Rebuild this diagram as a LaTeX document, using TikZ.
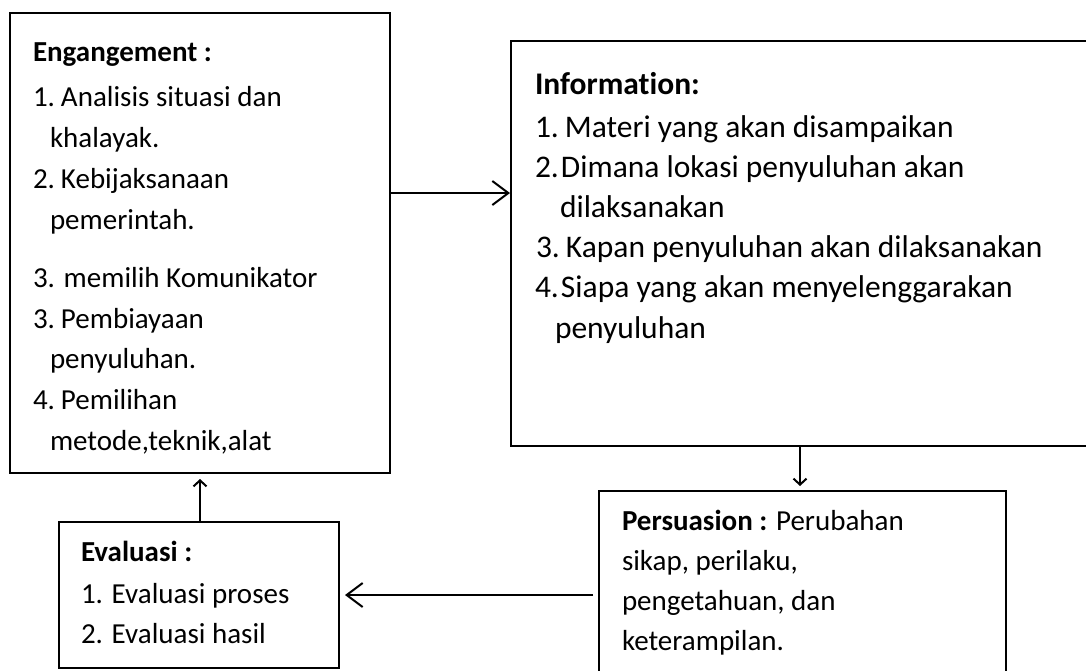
\documentclass[tikz,border=0pt]{standalone}
\usepackage{fontspec}
\setmainfont{Carlito}[Ligatures={NoCommon}]
\usetikzlibrary{arrows.meta}
\tikzset{
  box/.style={draw=black, line width=2pt, rectangle, inner sep=0pt, outer sep=0pt, anchor=north west},
  txt/.style={anchor=base west, inner sep=0pt, outer sep=0pt, font=\fontsize{29}{34}\selectfont},
  txtb/.style={txt, font=\fontsize{31.5}{36}\selectfont},
  txtc/.style={txt, font=\fontsize{29}{34}\selectfont},
  arr/.style={line width=2pt, -{Straight Barb[length=16pt,width=24pt,line width=2pt]}},
  sarr/.style={line width=2.2pt, -{Straight Barb[length=6pt,width=13pt,line width=2pt]}}
}
\newcommand{\numb}[1]{\makebox[28pt][l]{#1}}
\newcommand{\numw}[2]{\makebox[#1][l]{#2}}
\begin{document}
\begin{tikzpicture}[x=1pt,y=-1pt]
\path[use as bounding box, fill=white] (0,0) rectangle (1086,670);
\clip (0,0) rectangle (1086,670);
% boxes
\node[box, minimum width=380pt, minimum height=460pt] (A) at (10,13) {};
\node[box, minimum width=600pt, minimum height=405pt] (B) at (511,41) {};
\node[box, minimum width=407pt, minimum height=200pt] (C) at (599,491) {};
\node[box, minimum width=280pt, minimum height=146pt] (D) at (59,522) {};
% box A text
\node[txt] (a1) at (33,61) {\textbf{Engangement :}};
\node[txt] (a2) at (33,106) {\numb{1.}Analisis situasi dan};
\node[txt] (a3) at (50,147) {khalayak.};
\node[txt] (a4) at (33,188) {\numb{2.}Kebijaksanaan};
\node[txt] (a5) at (50,229) {pemerintah.};
\node[txt] (a6) at (33,287) {3. memilih Komunikator};
\node[txt] (a7) at (33,328) {\numb{3.}Pembiayaan};
\node[txt] (a8) at (50,368) {penyuluhan.};
\node[txt] (a9) at (33,409) {\numb{4.}Pemilihan};
\node[txt] (a10) at (50,450) {metode,teknik,alat};
% box B text
\node[txtb] (b1) at (535,94) {\textbf{Information:}};
\node[txtb] (b2) at (535,137) {\numw{30pt}{1.}Materi yang akan disampaikan};
\node[txtb] (b3) at (535,177) {\numw{26pt}{2.}Dimana lokasi penyuluhan akan};
\node[txtb] (b4) at (560,217) {dilaksanakan};
\node[txtb] (b5) at (536,257) {\numw{30pt}{3.}Kapan penyuluhan akan dilaksanakan};
\node[txtb] (b6) at (535,297) {\numw{26pt}{4.}Siapa yang akan menyelenggarakan};
\node[txtb] (b7) at (555,338) {penyuluhan};
% box C text
\node[txtc] (c1) at (622,530) {\textbf{Persuasion :} Perubahan};
\node[txtc] (c2) at (622,570) {sikap, perilaku,};
\node[txtc] (c3) at (622,610) {pengetahuan, dan};
\node[txtc] (c4) at (622,650) {keterampilan.};
% box D text
\node[txtc] (d1) at (81,561) {\textbf{Evaluasi :}};
\node[txtc] (d2) at (81,603) {1. Evaluasi proses};
\node[txtc] (d3) at (81,643) {2. Evaluasi hasil};
% connectors
\draw[arr, shorten >=1pt] (A.east |- 0,193) -- (B.west |- 0,193);
\draw[arr, shorten <=6pt, shorten >=6pt] (C.west |- 0,595) -- (D.east |- 0,595);
\draw[sarr, shorten <=1pt, shorten >=5pt] (B.south -| 800,0) -- (C.north -| 800,0);
\draw[sarr, shorten <=1pt, shorten >=6pt] (D.north -| 200,0) -- (A.south -| 200,0);
\end{tikzpicture}
\end{document}
